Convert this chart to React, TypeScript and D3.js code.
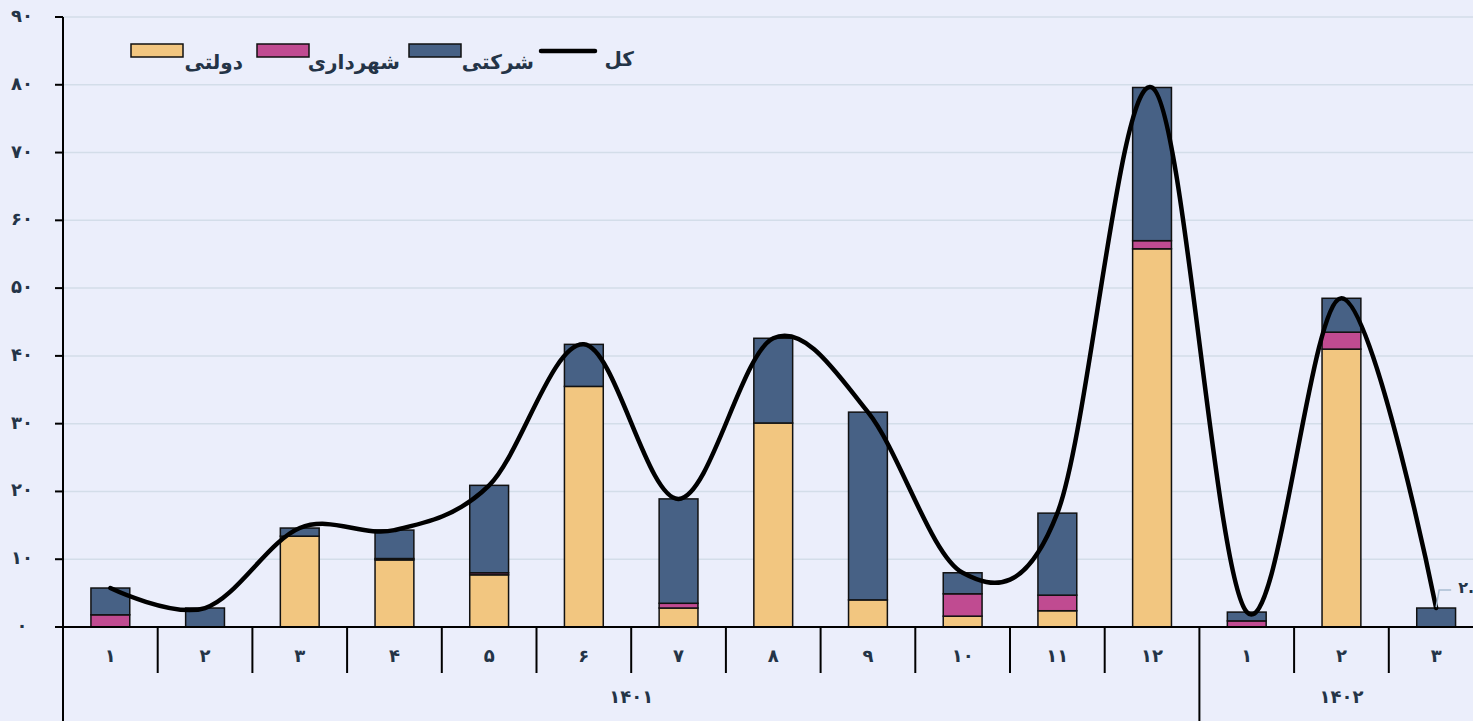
import * as d3 from "d3";

// months (Persian digits) and their year groups
const months = ["۱", "۲", "۳", "۴", "۵", "۶", "۷", "۸", "۹", "۱۰", "۱۱", "۱۲", "۱", "۲", "۳"];
const years = ["۱۴۰۱", "۱۴۰۲"];
const yearSpans = [12, 3];

// series values
const dolati = [0, 0, 13.4, 9.9, 7.7, 35.5, 2.8, 30.1, 4.0, 1.6, 2.4, 55.8, 0, 41.0, 0];
const shahrdari = [1.8, 0, 0, 0.2, 0.3, 0, 0.7, 0, 0, 3.3, 2.3, 1.2, 0.9, 2.5, 0];
const sherkati = [3.95, 2.8, 1.2, 4.2, 12.9, 6.2, 15.4, 12.5, 27.7, 3.1, 12.1, 22.6, 1.3, 5.0, 2.8];
const yTicks = [0, 10, 20, 30, 40, 50, 60, 70, 80, 90];

const seriesNames = ["دولتی", "شهرداری", "شرکتی"];
const seriesColors = ["#F2C680", "#C04B91", "#476185"];
const lineName = "کل";
const lastLabel = "۲.۸";

const W = 1473;
const H = 721;
const TEXT = "#243447";
const FONT = "'DejaVu Sans', sans-serif";

const toFa = (n: number) => String(n).replace(/\d/g, (c) => "۰۱۲۳۴۵۶۷۸۹"[+c]);

export default function App() {
  const left = 63;
  const x0 = 63;
  const x1 = 1483.5;
  const yBase = 627;
  const yTop = 17;

  const idx = months.map((_, i) => i);
  const x = d3.scaleBand<number>().domain(idx).range([x0, x1]).paddingInner(0.59).paddingOuter(0.295);
  const step = (x1 - x0) / months.length;
  const y = d3.scaleLinear().domain([0, 90]).range([yBase, yTop]);

  const rows = idx.map((i) => ({ i, d: dolati[i], s: shahrdari[i], k: sherkati[i] }));
  const stack = d3.stack<any>().keys(["d", "s", "k"])(rows);
  const totals = idx.map((i) => dolati[i] + shahrdari[i] + sherkati[i]);

  const line = d3
    .line<number>()
    .x((_, i) => (x(i) ?? 0) + x.bandwidth() / 2)
    .y((v) => y(v))
    .curve(d3.curveCardinal.tension(0));

  const bounds = d3.range(months.length + 1).map((i) => x0 + i * step);
  let acc = 0;
  const groups = yearSpans.map((n, gi) => {
    const a = acc;
    acc += n;
    return { label: years[gi], start: a, end: acc };
  });

  const lastI = months.length - 1;
  const lx = (x(lastI) ?? 0) + x.bandwidth() / 2;
  const ly = y(totals[lastI]);

  return (
    <svg
      width={W}
      height={H}
      style={{ position: "absolute", left: 0, top: 0, background: "#EBEEFB", fontFamily: FONT }}
    >
      <rect x={0} y={0} width={W} height={H} fill="#EBEEFB" />
      {/* grid */}
      {yTicks.map((t) => (
        <line key={t} x1={left} x2={W} y1={y(t)} y2={y(t)} stroke="#D3DDE9" strokeWidth={1.5} />
      ))}
      {/* y axis */}
      <line x1={left} x2={left} y1={yTop} y2={H} stroke="#000" strokeWidth={2} />
      {yTicks.map((t) => (
        <g key={t}>
          <line x1={left - 8} x2={left} y1={y(t)} y2={y(t)} stroke="#000" strokeWidth={2} />
          <text x={22} y={y(t)} textAnchor="middle" dominantBaseline="middle" fontSize={18} fontWeight="bold" fill={TEXT}>
            {toFa(t)}
          </text>
        </g>
      ))}
      {/* bars */}
      {stack.map((layer, si) => (
        <g key={si} fill={seriesColors[si]} stroke="#111" strokeWidth={1.5}>
          {layer.map((seg, i) =>
            seg[1] - seg[0] > 0 ? (
              <rect key={i} x={x(i)} width={x.bandwidth()} y={y(seg[1])} height={y(seg[0]) - y(seg[1])} />
            ) : null
          )}
        </g>
      ))}
      {/* x axis */}
      <line x1={left - 8} x2={W} y1={yBase} y2={yBase} stroke="#000" strokeWidth={2} />
      {bounds.map((b, i) => (
        <line
          key={i}
          x1={b}
          x2={b}
          y1={yBase}
          y2={groups.some((g) => g.start === i && i > 0) ? H : yBase + 46}
          stroke="#000"
          strokeWidth={2}
        />
      ))}
      {months.map((m, i) => (
        <text key={i} x={(x(i) ?? 0) + x.bandwidth() / 2} y={657} textAnchor="middle" dominantBaseline="middle" fontSize={18} fontWeight="bold" fill={TEXT}>
          {m}
        </text>
      ))}
      {groups.map((g) => (
        <text key={g.label} x={(bounds[g.start] + bounds[g.end]) / 2} y={698} textAnchor="middle" dominantBaseline="middle" fontSize={18} fontWeight="bold" fill={TEXT}>
          {g.label}
        </text>
      ))}
      {/* total line */}
      <path d={line(totals) ?? ""} fill="none" stroke="#000" strokeWidth={4.5} strokeLinecap="round" />
      {/* data label for last point */}
      <polyline points={`${lx},${ly - 1} ${lx + 3},${ly - 18} ${lx + 15},${ly - 18}`} fill="none" stroke="#A9BDD2" strokeWidth={1.5} />
      <text x={lx + 22} y={ly - 20} dominantBaseline="middle" fontSize={16} fontWeight="bold" fill={TEXT}>
        {lastLabel}
      </text>
      {/* legend */}
      <g fontSize={20} fontWeight="bold" fill={TEXT}>
        {[
          { sx: 131, tx: 243 },
          { sx: 257, tx: 400 },
          { sx: 409, tx: 534 },
        ].map((p, i) => (
          <g key={i}>
            <rect x={p.sx} y={44} width={52} height={13} fill={seriesColors[i]} stroke="#111" strokeWidth={1.5} />
            <text x={p.tx} y={63} textAnchor="end" dominantBaseline="middle">
              {seriesNames[i]}
            </text>
          </g>
        ))}
        <line x1={541} x2={595} y1={51} y2={51} stroke="#000" strokeWidth={4.5} strokeLinecap="round" />
        <text x={634} y={60} textAnchor="end" dominantBaseline="middle">
          {lineName}
        </text>
      </g>
    </svg>
  );
}
